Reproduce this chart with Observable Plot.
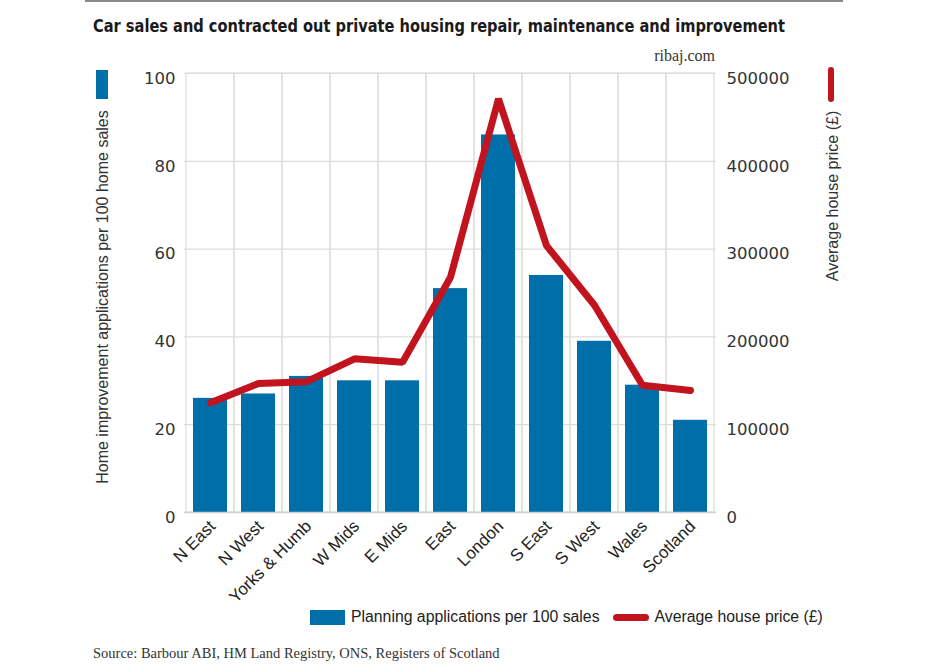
<!DOCTYPE html>
<html>
<head>
<meta charset="utf-8">
<script src="https://cdn.jsdelivr.net/npm/d3@7"></script>
<script src="https://cdn.jsdelivr.net/npm/@observablehq/plot@0.6"></script>
<style>
  html, body { margin: 0; padding: 0; background: #fff; }
  #wrap { position: relative; width: 937px; height: 668px; overflow: hidden; font-family: "Liberation Sans", Arial, sans-serif; color: #333; }
  #rule { position: absolute; left: 85px; top: 0px; width: 758px; height: 2px; background: #8a8a8a; }
  #title { position: absolute; left: 93px; top: 13px; font-family: "Liberation Sans Narrow", "DejaVu Sans Condensed", "Liberation Sans", sans-serif; font-weight: bold; font-size: 18.5px; line-height: 26px; color: #1a1a1a; white-space: nowrap; transform-origin: 0 50%; }
  #site { position: absolute; right: 222px; top: 46px; font-family: "Liberation Serif", "DejaVu Serif", serif; font-size: 16px; line-height: 20px; color: #333; }
  #chart { position: absolute; left: 0; top: 60px; }
  .sw-blue { position: absolute; left: 96px; top: 70px; width: 12px; height: 29px; background: #006fa9; }
  .sw-red { position: absolute; left: 828px; top: 67px; width: 6px; height: 35px; background: #c1141e; border-radius: 3px; }
  #legend { position: absolute; left: 310px; top: 605px; height: 24px; display: flex; align-items: center; font-size: 15.8px; color: #222; white-space: nowrap; }
  #legend .box { width: 35px; height: 15px; background: #006fa9; margin-right: 6px; }
  #legend .ln { width: 36px; height: 7px; background: #c1141e; border-radius: 4px; margin-left: 13px; margin-right: 6px; }
  #source { position: absolute; left: 93px; top: 644px; font-family: "Liberation Serif", "DejaVu Serif", serif; font-size: 14.5px; line-height: 18px; color: #333; white-space: nowrap; }
</style>
</head>
<body>
<div id="wrap">
  <div id="rule"></div>
  <div id="title">Car sales and contracted out private housing repair, maintenance and improvement</div>
  <div id="site">ribaj.com</div>
  <div id="chart"></div>
  <div class="sw-blue"></div>
  <div class="sw-red"></div>
  <div id="legend"><div class="box"></div><span>Planning applications per 100 sales</span><div class="ln"></div><span>Average house price (£)</span></div>
  <div id="source">Source: Barbour ABI, HM Land Registry, ONS, Registers of Scotland</div>
</div>
<script>
// ---- data ----
const regions = ["N East", "N West", "Yorks & Humb", "W Mids", "E Mids", "East", "London", "S East", "S West", "Wales", "Scotland"];
const applications = [26, 27, 31, 30, 30, 51, 86, 54, 39, 29, 21];
const housePrice = [125000, 147000, 149000, 175000, 171000, 268000, 471000, 304000, 236000, 145000, 139000];
const leftTicks = [0, 20, 40, 60, 80, 100];
const rightTicks = [0, 100000, 200000, 300000, 400000, 500000];
const leftTitle = "Home improvement applications per 100 home sales";
const rightTitle = "Average house price (£)";

// ratio between the right axis and the left axis
const priceScale = rightTicks[rightTicks.length - 1] / leftTicks[leftTicks.length - 1];

const data = regions.map((r, i) => ({region: r, applications: applications[i], price: housePrice[i]}));

const blue = "#006fa9";
const red = "#c1141e";
const grid = "#dcdcdc";
const tickFont = "'DejaVu Sans', 'Liberation Sans', sans-serif";

const chart = Plot.plot({
  width: 937,
  height: 548,
  marginTop: 13,
  marginLeft: 184,
  marginRight: 221,
  marginBottom: 96,
  x: {domain: regions, padding: 0},
  y: {domain: [0, 100]},
  style: {fontFamily: "'Liberation Sans', Arial, sans-serif", background: "transparent", color: "#333"},
  marks: [
    Plot.ruleY(leftTicks, {stroke: grid, strokeWidth: 1.2}),
    Plot.barY(regions, {x: d => d, y1: 0, y2: 100, fill: "none", stroke: grid, strokeWidth: 1.2}),
    Plot.barY(data, {x: "region", y: "applications", fill: blue, insetLeft: 7, insetRight: 7}),
    Plot.ruleY([0], {stroke: "#cfcfcf", strokeWidth: 1.5}),
    Plot.line(data, {x: "region", y: d => d.price / priceScale, stroke: red, strokeWidth: 7, strokeLinejoin: "miter", strokeLinecap: "round"}),
    Plot.axisY(leftTicks, {anchor: "left", tickSize: 0, tickPadding: 9, fontSize: 16.5, fontFamily: tickFont, dy: 5, fill: "#333", label: null}),
    Plot.axisY(leftTicks, {anchor: "right", tickSize: 0, tickPadding: 10, fontSize: 16.5, fontFamily: tickFont, dy: 5, fill: "#333", label: null,
      tickFormat: d => String(d * priceScale)}),
    Plot.axisX({tickRotate: -45, tickSize: 0, tickPadding: 8, fontSize: 17, dx: 2, dy: 3, fill: "#222", label: null}),
    Plot.text([leftTitle], {text: d => d, frameAnchor: "left", textAnchor: "middle", rotate: -90, dx: -82, dy: 4, fontSize: 16, fill: "#333"}),
    Plot.text([rightTitle], {text: d => d, frameAnchor: "right", textAnchor: "middle", rotate: -90, dx: 116, dy: -97, fontSize: 16, fill: "#333"})
  ]
});
document.getElementById("chart").appendChild(chart);

// fit the condensed title to the reference width
const title = document.getElementById("title");
const w = title.getBoundingClientRect().width;
title.style.transform = `scaleX(${692 / w})`;
</script>
</body>
</html>
